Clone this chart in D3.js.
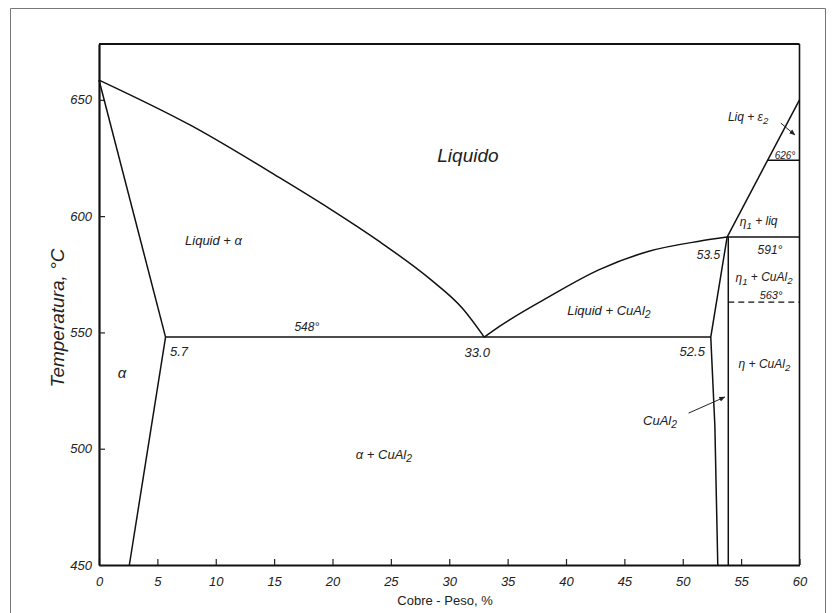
<!DOCTYPE html>
<html>
<head>
<meta charset="utf-8">
<script src="https://cdn.jsdelivr.net/npm/d3@7/dist/d3.min.js"></script>
<style>
  html, body { margin: 0; padding: 0; background: #fff; overflow: hidden; }
  svg { display: block; }
  svg text { font-family: "Liberation Sans", Arial, sans-serif; font-style: italic; fill: #222; }
</style>
</head>
<body>
<div id="chart"></div>
<script>
// --- data (wt% Cu, temperature C) ---
var xTicks = [0, 5, 10, 15, 20, 25, 30, 35, 40, 45, 50, 55, 60];
var yTicks = [450, 500, 550, 600, 650];

var liquidusAlpha = [[0, 658.5], [7.79, 639.2], [15.5, 616.4], [19.78, 603.1], [24.06, 588.9], [28.34, 573.0], [31.18, 560.1], [33, 548]];
var solidusAlpha = [[0, 658.5], [5.7, 548]];
var solvusAlpha = [[5.7, 548], [2.6, 450]];
var liquidusCuAl2 = [[33, 548], [34.3, 552.6], [38.6, 565.5], [42.85, 577], [47.1, 584.9], [51.4, 589.2], [53.8, 591]];
var cuAl2Left = [[53.8, 591], [52.4, 548], [52.75, 510], [53.0, 450]];
var cuAl2Right = [[53.9, 591], [53.9, 450]];
var liquidusEta = [[53.8, 591], [60, 650]];
var eutectic = [[5.7, 548], [52.4, 548]];
var peritectic591 = [[53.8, 591], [60, 591]];
var iso626 = [[57.27, 624], [60, 624]];
var iso563 = [[53.9, 563], [60, 563]];

// labels: text ("_" marks a subscript char), wt%, temp, anchor, size
var labels = [
    ["Liquido", 31.6, 623.3, "middle", 19],
    ["Liquid + α", 7.37, 587.6, "start", 13],
    ["548°", 17.8, 550.6, "middle", 12],
    ["5.7", 6.08, 539.9, "start", 13],
    ["33.0", 32.4, 539.4, "middle", 13],
    ["α", 1.97, 530.4, "middle", 15],
    ["α + CuAl_2", 22.0, 495.6, "start", 13],
    ["Liquid + CuAl_2", 40.1, 557.5, "start", 13],
    ["53.5", 53.2, 581.6, "end", 12],
    ["52.5", 51.9, 539.9, "end", 13],
    ["591°", 57.47, 583.7, "middle", 12],
    ["η_1 + CuAl_2", 56.96, 571.7, "middle", 12],
    ["563°", 57.56, 564.2, "middle", 11],
    ["η + CuAl_2", 57.0, 534.7, "middle", 12],
    ["η_1 + liq", 56.5, 595.7, "middle", 12],
    ["Liq + ε_2", 53.87, 640.9, "start", 12],
    ["626°", 58.76, 624.6, "middle", 10],
    ["CuAl_2", 46.6, 510.2, "start", 13]
];
var arrows = [
    [[50.5, 515.3], [53.6, 522.2]],
    [[58.4, 640], [59.6, 634.9]]
];

var width = 834, height = 613,
    margin = { top: 44, right: 34.5, bottom: 48, left: 99 },
    innerWidth = width - margin.left - margin.right,
    innerHeight = height - margin.top - margin.bottom;

var svg = d3.select("#chart").append("svg")
    .attr("width", width)
    .attr("height", height);

// outer frame of the figure
svg.append("path")
    .attr("d", "M10.5,613V8.5H825.5V613")
    .attr("fill", "none")
    .attr("stroke", "#777")
    .attr("stroke-width", 1);

svg.append("defs").append("marker")
    .attr("id", "arr")
    .attr("viewBox", "0 0 10 10")
    .attr("refX", 9).attr("refY", 5)
    .attr("markerWidth", 6).attr("markerHeight", 6)
    .attr("orient", "auto")
    .append("path")
    .attr("d", "M0,1L10,5L0,9z")
    .attr("fill", "#222");

var g = svg.append("g")
    .attr("transform", "translate(" + margin.left + "," + margin.top + ")");

var xScale = d3.scaleLinear().domain([0, 60]).range([0, innerWidth]);
var yScale = d3.scaleLinear().domain([450, 674]).range([innerHeight, 0]);

// frame top / right
g.append("line").attr("x1", 0).attr("x2", innerWidth).attr("y1", 0).attr("y2", 0)
    .attr("stroke", "#111").attr("stroke-width", 2.2);
g.append("line").attr("x1", innerWidth).attr("x2", innerWidth).attr("y1", 0).attr("y2", innerHeight)
    .attr("stroke", "#111").attr("stroke-width", 1.6);

var xAxis = g.append("g")
    .attr("class", "x axis")
    .attr("transform", "translate(0," + innerHeight + ")")
    .call(d3.axisBottom(xScale).tickValues(xTicks).tickSizeInner(-6).tickSizeOuter(0).tickPadding(9));

var yAxis = g.append("g")
    .attr("class", "y axis")
    .call(d3.axisLeft(yScale).tickValues(yTicks).tickSizeInner(-6).tickSizeOuter(0).tickPadding(7));

g.selectAll(".axis .domain").attr("stroke", "#111").attr("stroke-width", 2.2);
g.selectAll(".axis .tick line").attr("stroke", "#222").attr("stroke-width", 1.2);
g.selectAll(".axis text")
    .style("font-family", "'Liberation Sans', Arial, sans-serif")
    .style("font-style", "italic")
    .style("font-size", "13px")
    .attr("fill", "#222");
xAxis.selectAll("text").attr("dy", "0.9em");

// axis titles
svg.append("text")
    .attr("x", 445).attr("y", 605)
    .attr("text-anchor", "middle")
    .style("font-size", "13px")
    .style("font-style", "normal")
    .text("Cobre - Peso, %");

svg.append("text")
    .attr("transform", "translate(64,318) rotate(-90)")
    .attr("text-anchor", "middle")
    .style("font-size", "19px")
    .text("Temperatura, °C");

// phase boundaries
var line = d3.line()
    .x(function(d) { return xScale(d[0]); })
    .y(function(d) { return yScale(d[1]); });
var smooth = d3.line()
    .x(function(d) { return xScale(d[0]); })
    .y(function(d) { return yScale(d[1]); })
    .curve(d3.curveMonotoneX);

[liquidusAlpha, liquidusCuAl2].forEach(function(d) {
    g.append("path").datum(d).attr("d", smooth)
        .attr("fill", "none").attr("stroke", "#111").attr("stroke-width", 1.5);
});
[solidusAlpha, solvusAlpha, cuAl2Left, cuAl2Right, liquidusEta, eutectic, peritectic591, iso626].forEach(function(d) {
    g.append("path").datum(d).attr("d", line)
        .attr("fill", "none").attr("stroke", "#111").attr("stroke-width", 1.5);
});
g.append("path").datum(iso563).attr("d", line)
    .attr("fill", "none").attr("stroke", "#111").attr("stroke-width", 1.4)
    .attr("stroke-dasharray", "6,4");

arrows.forEach(function(a) {
    g.append("path").datum(a).attr("d", line)
        .attr("fill", "none").attr("stroke", "#222").attr("stroke-width", 1)
        .attr("marker-end", "url(#arr)");
});

// labels with subscripts
labels.forEach(function(l) {
    var t = g.append("text")
        .attr("x", xScale(l[1]))
        .attr("y", yScale(l[2]))
        .attr("text-anchor", l[3])
        .style("font-size", l[4] + "px");
    var parts = l[0].split("_");
    t.append("tspan").text(parts[0]);
    for (var i = 1; i < parts.length; i++) {
        t.append("tspan").attr("dy", "0.3em").style("font-size", (l[4] * 0.8) + "px").text(parts[i].charAt(0));
        if (parts[i].length > 1) {
            t.append("tspan").attr("dy", "-0.3em").text(parts[i].slice(1));
        }
    }
});
</script>
</body>
</html>
